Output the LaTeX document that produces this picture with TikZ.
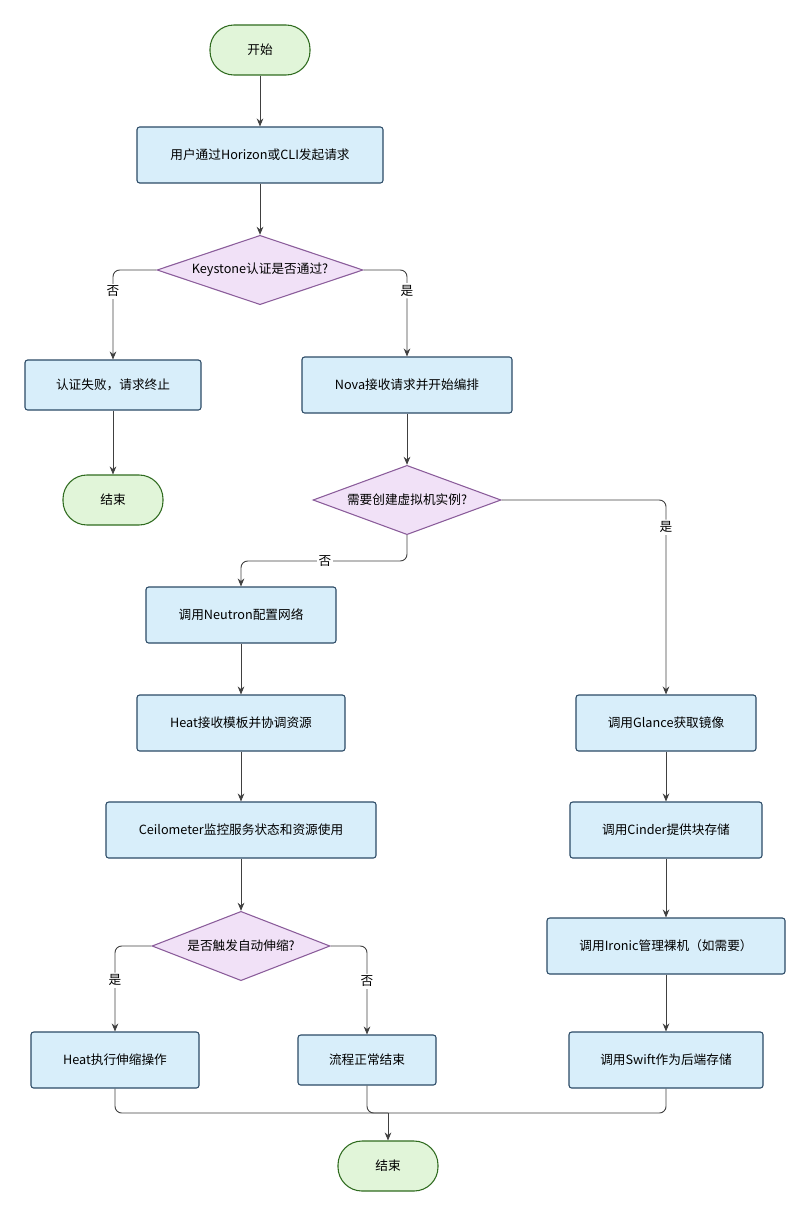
\documentclass[tikz,border=0pt]{standalone}
\usepackage{fontspec}
\setmainfont{Noto Sans CJK SC}
\usetikzlibrary{shapes.geometric,arrows.meta}
\definecolor{pfill}{HTML}{D8EEFA}\definecolor{pdraw}{HTML}{2B4A66}
\definecolor{dfill}{HTML}{F1E1F7}\definecolor{ddraw}{HTML}{8A5C9A}
\definecolor{tfill}{HTML}{E1F5D9}\definecolor{tdraw}{HTML}{2F6B1F}
\begin{document}
\begin{tikzpicture}[x=0.75pt,y=-0.75pt,font=\fontsize{9.5pt}{11pt}\selectfont,
 proc/.style={draw=pdraw,fill=pfill,rounded corners=2pt,minimum width=#1*0.75pt,minimum height=42pt,inner sep=0pt,line width=0.8pt},
 term/.style={draw=tdraw,fill=tfill,rounded corners=18pt,minimum width=75pt,minimum height=37.5pt,line width=0.8pt},
 dec/.style={draw=ddraw,fill=dfill,diamond,aspect=3,minimum width=#1*0.75pt,minimum height=52pt,inner sep=0pt,line width=0.8pt},
 ed/.style={draw=black!75,line width=0.7pt,rounded corners=5pt,-{Stealth[length=6pt,width=5pt]}},
 ln/.style={draw=black!75,line width=0.7pt,rounded corners=5pt},
 lb/.style={fill=white,inner sep=1.5pt}]
\useasboundingbox (0,0) rectangle (810,1216);
\node[term] (s) at (260,50) {开始};
\node[proc=246] (req) at (260,155) {用户通过Horizon或CLI发起请求};
\node[dec=206] (d1) at (260,270) {Keystone认证是否通过?};
\node[proc=176,minimum height=37.5pt] (fail) at (113,385) {认证失败，请求终止};
\node[term] (e1) at (113,500) {结束};
\node[proc=210] (nova) at (407,385) {Nova接收请求并开始编排};
\node[dec=188] (d2) at (407,500) {需要创建虚拟机实例?};
\node[proc=190] (neu) at (241,615) {调用Neutron配置网络};
\node[proc=208] (heat) at (241,723) {Heat接收模板并协调资源};
\node[proc=270] (ceil) at (241,830) {Ceilometer监控服务状态和资源使用};
\node[dec=178] (d3) at (241,946) {是否触发自动伸缩?};
\node[proc=168] (hx) at (115,1060) {Heat执行伸缩操作};
\node[proc=138,minimum height=37.5pt] (nor) at (367,1060) {流程正常结束};
\node[proc=180] (gl) at (666,723) {调用Glance获取镜像};
\node[proc=192] (ci) at (666,830) {调用Cinder提供块存储};
\node[proc=238] (ir) at (666,946) {调用Ironic管理裸机（如需要）};
\node[proc=194] (sw) at (666,1060) {调用Swift作为后端存储};
\node[term] (e2) at (388,1166) {结束};
\draw[ed] (s) -- (req);
\draw[ed] (req) -- (d1);
\draw[ed] (d1.west) -| node[lb,pos=0.62]{否} (fail.north);
\draw[ed] (d1.east) -| node[lb,pos=0.62]{是} (nova.north);
\draw[ed] (fail) -- (e1);
\draw[ed] (nova) -- (d2);
\draw[ed] (d2.east) -| node[lb,pos=0.57]{是} (gl.north);
\draw[ed] (d2.south) |- (325,561) -| (neu.north);
\node[lb] at (325,561) {否};
\draw[ed] (neu) -- (heat);
\draw[ed] (heat) -- (ceil);
\draw[ed] (ceil) -- (d3);
\draw[ed] (d3.west) -| node[lb,pos=0.7]{是} (hx.north);
\draw[ed] (d3.east) -| node[lb,pos=0.7]{否} (nor.north);
\draw[ed] (gl) -- (ci);
\draw[ed] (ci) -- (ir);
\draw[ed] (ir) -- (sw);
\coordinate (j) at (388,1113);
\draw[ln] (hx.south) |- (j);
\draw[ln] (nor.south) |- (j);
\draw[ln] (sw.south) |- (j);
\draw[ed] (j) -- (e2);
\end{tikzpicture}
\end{document}
